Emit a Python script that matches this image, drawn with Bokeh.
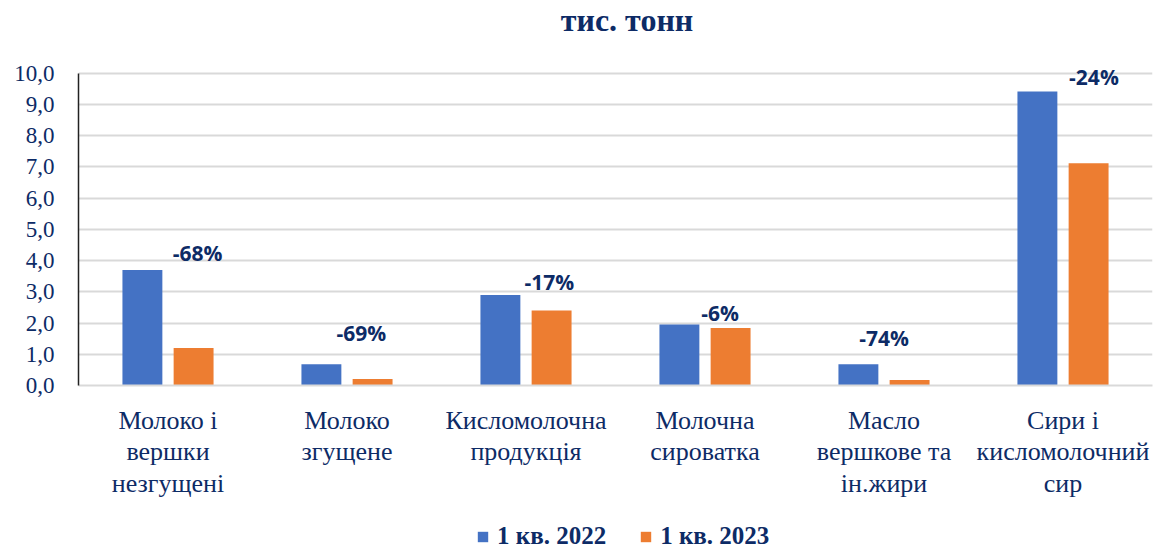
from bokeh.plotting import figure
from bokeh.layouts import column
from bokeh.models import (ColumnDataSource, Range1d, FixedTicker, Legend, LegendItem, LabelSet)
from bokeh.transform import dodge
from bokeh.core.properties import value
from bokeh.embed import file_html
from bokeh.resources import INLINE

# ---- data ----
categories = ["Молоко і\nвершки\nнезгущені", "Молоко\nзгущене", "Кисломолочна\nпродукція",
              "Молочна\nсироватка", "Масло\nвершкове та\nін.жири", "Сири і\nкисломолочний\nсир"]
q1_2022 = [3.7, 0.68, 2.9, 1.95, 0.68, 9.42]
q1_2023 = [1.2, 0.21, 2.4, 1.84, 0.18, 7.12]
change_labels = ["-68%", "-69%", "-17%", "-6%", "-74%", "-24%"]
# label anchor placement (data units): shift from category centre, height
label_shift = [0.165, 0.08, 0.13, 0.084, 0.0, 0.173]
label_y = [4.26, 1.67, 3.33, 2.31, 1.52, 9.89]
y_ticks = list(range(0, 11))
series_names = ["1 кв. 2022", "1 кв. 2023"]
title_text = "тис. тонн"

NAVY = "#0d2b66"
BLUE = "#4472c4"
ORANGE = "#ed7d31"
GRID = "#d9d9d9"
SERIF = "Liberation Serif"
W = 1155
LEFT, RIGHT = 78, 3   # frame borders shared by all three strips

centers = [i + 0.5 for i in range(len(categories))]
src = ColumnDataSource(dict(x=centers, a=q1_2022, b=q1_2023))
lab_src = ColumnDataSource(dict(x=[c + s for c, s in zip(centers, label_shift)], y=label_y, t=change_labels))

# ---------- header (title) ----------
head = figure(width=W, height=45, output_backend="svg", toolbar_location=None, title=None,
              x_range=Range1d(LEFT, W - RIGHT), y_range=Range1d(0, 45),
              x_axis_type=None, y_axis_type=None,
              min_border_left=LEFT, min_border_right=RIGHT, min_border_top=0, min_border_bottom=0)
head.outline_line_color = None
head.grid.visible = False
head.text(x=[626.5], y=[25.5], text=[title_text], text_align="center", text_baseline="middle",
          text_font=value(SERIF), text_font_style="bold", text_font_size="32px", text_color=NAVY)

# ---------- main chart ----------
p = figure(width=W, height=470, output_backend="svg", toolbar_location=None, title=None,
           x_range=Range1d(0, len(categories)), y_range=Range1d(0, 10.25),
           min_border_left=LEFT, min_border_right=RIGHT, min_border_top=20, min_border_bottom=130)
p.outline_line_color = None

p.vbar(x=dodge("x", -0.143, range=p.x_range), top="a", width=0.223, source=src,
       fill_color=BLUE, line_color=None)
p.vbar(x=dodge("x", 0.143, range=p.x_range), top="b", width=0.223, source=src,
       fill_color=ORANGE, line_color=None)

p.add_layout(LabelSet(x="x", y="y", text="t", source=lab_src, text_align="center", text_baseline="middle",
                      text_font=value("Open Sans"), text_font_style="bold", text_font_size="21px",
                      text_color=NAVY))

p.yaxis.ticker = FixedTicker(ticks=y_ticks)
p.yaxis.bounds = (0, 10)
p.yaxis.major_label_overrides = {t: f"{t},0" for t in y_ticks}
p.yaxis.major_label_text_font = SERIF
p.yaxis.major_label_text_font_size = "23px"
p.yaxis.major_label_text_color = NAVY
p.yaxis.major_tick_line_color = None
p.yaxis.minor_tick_line_color = None
p.yaxis.axis_line_color = "#222222"
p.yaxis.axis_line_width = 1.5
p.yaxis.major_label_standoff = 18

p.xaxis.ticker = FixedTicker(ticks=centers)
p.xaxis.major_label_overrides = {c: lab for c, lab in zip(centers, categories)}
p.xaxis.major_label_text_font = SERIF
p.xaxis.major_label_text_font_size = "26px"
p.xaxis.major_label_text_line_height = 1.1
p.xaxis.major_label_text_color = NAVY
p.xaxis.major_tick_line_color = None
p.xaxis.minor_tick_line_color = None
p.xaxis.axis_line_color = GRID
p.xaxis.axis_line_width = 2
p.xaxis.major_label_standoff = 14

p.xgrid.grid_line_color = None
p.ygrid.ticker = FixedTicker(ticks=y_ticks)
p.ygrid.grid_line_color = GRID
p.ygrid.grid_line_width = 2

# ---------- legend strip ----------
leg = figure(width=W, height=34, output_backend="svg", toolbar_location=None, title=None,
             x_range=Range1d(LEFT + 1000, W - RIGHT + 1000), y_range=Range1d(1000, 1034),
             x_axis_type=None, y_axis_type=None,
             min_border_left=LEFT, min_border_right=RIGHT, min_border_top=0, min_border_bottom=0)
leg.outline_line_color = None
leg.grid.visible = False
# same series, positioned outside this strip's visible range; used only as legend keys
k1 = leg.vbar(x="x", top="a", width=0.2, source=src, fill_color=BLUE, line_color=None)
k2 = leg.vbar(x="x", top="b", width=0.2, source=src, fill_color=ORANGE, line_color=None)
legend = Legend(items=[LegendItem(label=series_names[0], renderers=[k1]),
                       LegendItem(label=series_names[1], renderers=[k2])],
                orientation="horizontal", location=(476 - LEFT, -1),
                label_text_font=SERIF, label_text_font_style="bold",
                label_text_font_size="25px", label_text_color=NAVY,
                glyph_width=13, glyph_height=13, label_standoff=8, spacing=33,
                padding=0, margin=0, border_line_color=None, background_fill_alpha=0)
leg.add_layout(legend)

layout = column(head, p, leg, spacing=0)
open("out.html", "w").write(file_html(layout, INLINE))
